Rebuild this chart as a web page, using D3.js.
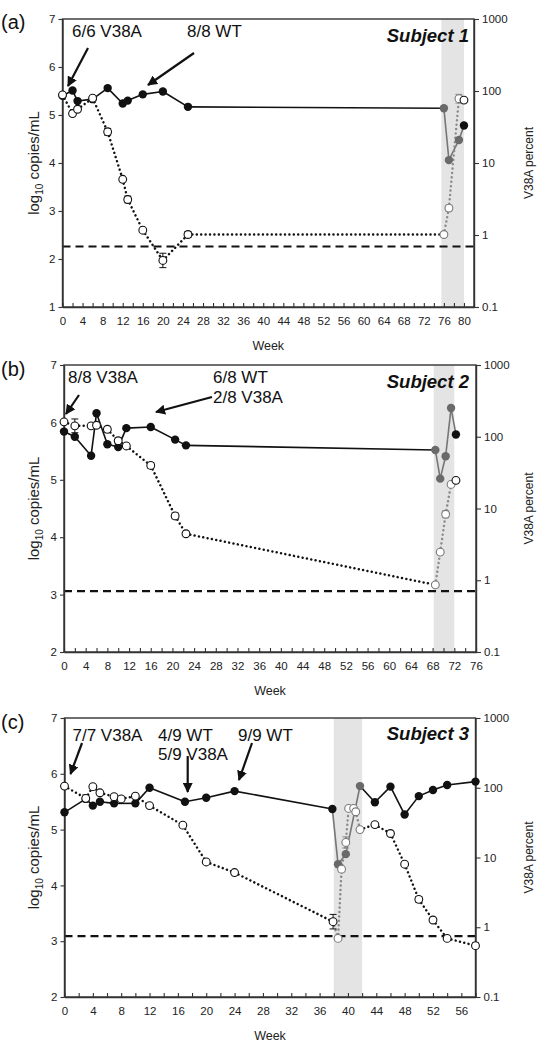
<!DOCTYPE html>
<html><head><meta charset="utf-8">
<script src="https://cdn.jsdelivr.net/npm/d3@7"></script>
<style>
body{margin:0;background:#fff}
svg{display:block}
text{font-family:"Liberation Sans",Arial,Helvetica,sans-serif;}
</style>
</head><body>
<svg id="chart" width="546" height="1050"></svg>
<script>
// ---------------- DATA ----------------
// Subject 1
const s1FilledWeeks = [0, 2, 3, 6, 9, 12, 13, 16, 20, 25, 76, 77, 79, 80];
const s1Filled      = [5.40, 5.51, 5.29, 5.33, 5.56, 5.24, 5.30, 5.43, 5.49, 5.17, 5.14, 4.06, 4.48, 4.78];
const s1OpenWeeks   = [0, 2, 3, 6, 9, 12, 13, 16, 20, 25, 76, 77, 79, 80];
const s1Open        = [5.42, 5.03, 5.12, 5.35, 4.65, 3.66, 3.24, 2.60, 1.97, 2.51, 2.51, 3.06, 5.34, 5.31];
const s1OpenErr     = [0, 0, 0, 0, 0.07, 0, 0.07, 0, 0.15, 0.06, 0.03, 0.06, 0.09, 0];
const s1Limit = 2.26;
const s1Band = [75.5, 80];
// Subject 2
const s2FilledWeeks = [0, 2, 5, 6, 8, 10, 11.5, 16, 20.5, 22.5, 68.5, 69.4, 70.4, 71.4, 72.3];
const s2Filled      = [5.84, 5.75, 5.42, 6.16, 5.62, 5.57, 5.90, 5.92, 5.70, 5.60, 5.52, 5.02, 5.41, 6.25, 5.79];
const s2OpenWeeks   = [0, 2, 5, 6, 8, 10, 11.5, 16, 20.5, 22.5, 68.5, 69.4, 70.4, 71.4, 72.3];
const s2Open        = [6.01, 5.94, 5.94, 5.95, 5.88, 5.68, 5.59, 5.25, 4.37, 4.06, 3.17, 3.74, 4.40, 4.92, 4.99];
const s2OpenErr     = [0, 0.12, 0, 0, 0.05, 0.05, 0, 0.05, 0.05, 0, 0.03, 0, 0.06, 0, 0];
const s2Limit = 3.06;
const s2Band = [68.2, 72];
// Subject 3
const s3FilledWeeks = [0, 3, 4, 5, 7, 10, 12, 17, 20, 24, 37.8, 38.6, 39.7, 41.7, 43.8, 46, 48, 50, 52, 54, 58];
const s3Filled      = [5.31, 5.55, 5.43, 5.50, 5.47, 5.47, 5.75, 5.50, 5.57, 5.69, 5.37, 4.38, 4.56, 5.78, 5.49, 5.77, 5.27, 5.60, 5.71, 5.80, 5.86];
const s3OpenWeeks   = [0, 3, 4, 5, 7, 8, 10, 12, 16.7, 20, 24, 37.9, 38.6, 39.1, 39.7, 40.1, 40.8, 41.1, 41.7, 43.8, 46, 48, 50, 52, 54, 58];
const s3Open        = [5.78, 5.56, 5.77, 5.66, 5.59, 5.55, 5.60, 5.43, 5.08, 4.42, 4.23, 3.35, 3.05, 4.29, 4.77, 5.38, 5.38, 5.32, 5.00, 5.09, 4.93, 4.38, 3.75, 3.38, 3.05, 2.92];
const s3OpenErr     = [0, 0.06, 0, 0, 0, 0, 0.04, 0, 0, 0, 0, 0.13, 0, 0.05, 0.1, 0, 0, 0, 0, 0, 0, 0, 0.05, 0, 0, 0.05];
const s3Limit = 3.09;
const s3Band = [38, 42];

const rightTicks = [0.1, 1, 10, 100, 1000];

// annotation texts
const s1Notes = ["6/6 V38A", "8/8 WT"];
const s2Notes = ["8/8 V38A", "6/8 WT", "2/8 V38A"];
const s3Notes = ["7/7 V38A", "4/9 WT", "5/9 V38A", "9/9 WT"];

// ---------------- LAYOUT ----------------
const panels = [
  {tag:"(a)", subject:"Subject 1", fw:s1FilledWeeks, fv:s1Filled, ow:s1OpenWeeks, ov:s1Open, oe:s1OpenErr,
   limit:s1Limit, band:s1Band, xMax:82, xLabelMax:80, yMin:1,
   box:{l:62.5, r:474, t:19, b:307}, tagY:29, subjY:42,
   notes:s1Notes, notePos:[[72,36.5],[187,36.5]],
   arrows:[[88,48,68,86],[194,53,148,85]]},
  {tag:"(b)", subject:"Subject 2", fw:s2FilledWeeks, fv:s2Filled, ow:s2OpenWeeks, ov:s2Open, oe:s2OpenErr,
   limit:s2Limit, band:s2Band, xMax:76, xLabelMax:76, yMin:2,
   box:{l:64, r:476, t:365, b:652}, tagY:376, subjY:388,
   notes:s2Notes, notePos:[[68,383],[213,383],[213,403]],
   arrows:[[79,395,66,414],[212,397,156,412]]},
  {tag:"(c)", subject:"Subject 3", fw:s3FilledWeeks, fv:s3Filled, ow:s3OpenWeeks, ov:s3Open, oe:s3OpenErr,
   limit:s3Limit, band:s3Band, xMax:58, xLabelMax:56, yMin:2,
   box:{l:64.5, r:475.5, t:718, b:997}, tagY:729, subjY:740,
   notes:s3Notes, notePos:[[72.5,741],[158,741],[158,760],[238,741]],
   arrows:[[82,743,70.5,774],[187.7,756,187.7,792],[252,743,239,780]]}
];

const BLACK = "#111", GREY = "#767676", GREYPT = "#6a6a6a";

const svg = d3.select("#chart");
const defs = svg.append("defs");
defs.append("marker").attr("id","arr").attr("viewBox","0 0 10 10")
  .attr("refX",9).attr("refY",5).attr("markerWidth",4.6).attr("markerHeight",4.6)
  .attr("markerUnits","strokeWidth").attr("orient","auto")
  .append("path").attr("d","M0,0 L10,5 L0,10 z").attr("fill",BLACK);

panels.forEach(p => {
  const B = p.box;
  const g = svg.append("g");
  const x = d3.scaleLinear().domain([0, p.xMax]).range([B.l, B.r]);
  const y = d3.scaleLinear().domain([p.yMin, 7]).range([B.b, B.t]);
  const yR = d3.scaleLog().domain([0.1, 1000]).range([B.b, B.t]);
  const inBand = w => w > p.band[0] && w < p.band[1];

  // band
  g.append("rect").attr("x", x(p.band[0])).attr("y", B.t)
    .attr("width", x(p.band[1]) - x(p.band[0])).attr("height", B.b - B.t)
    .attr("fill", "#e4e4e4");

  // limit line
  g.append("line").attr("x1", B.l).attr("x2", B.r).attr("y1", y(p.limit)).attr("y2", y(p.limit))
    .attr("stroke", BLACK).attr("stroke-width", 2.2).attr("stroke-dasharray", "8,5");

  // frame
  g.append("rect").attr("x", B.l).attr("y", B.t).attr("width", B.r - B.l).attr("height", B.b - B.t)
    .attr("fill", "none").attr("stroke", "#333").attr("stroke-width", 1.4);

  // axes
  const xt = d3.range(0, p.xMax + 0.001, 2);
  const xa = d3.axisBottom(x).tickValues(xt).tickSizeInner(-4).tickSizeOuter(0).tickPadding(10)
    .tickFormat(d => (d % 4 === 0 && d <= p.xLabelMax) ? d : "");
  const gx = g.append("g").attr("transform", `translate(0,${B.b})`).call(xa);
  const ya = d3.axisLeft(y).tickValues(d3.range(p.yMin, 7.001, 1)).tickSize(4).tickSizeOuter(0).tickPadding(3).tickFormat(d3.format("d"));
  const gy = g.append("g").attr("transform", `translate(${B.l},0)`).call(ya);
  const yra = d3.axisRight(yR).tickValues(rightTicks).tickSize(5).tickSizeOuter(0).tickPadding(3).tickFormat(d => String(d));
  const gyr = g.append("g").attr("transform", `translate(${B.r},0)`).call(yra);
  [gx, gy, gyr].forEach(a => {
    a.select(".domain").attr("stroke", "#333").attr("stroke-width", 1.4);
    a.selectAll(".tick line").attr("stroke", "#333").attr("stroke-width", 1.1);
    a.selectAll(".tick text").attr("font-size", 11.5).attr("fill", "#222")
      .attr("font-family", '"Liberation Sans",Arial,sans-serif');
  });

  // axis titles
  g.append("text").attr("x", (B.l + B.r) / 2).attr("y", B.b + 43).attr("text-anchor", "middle")
    .attr("font-size", 12.5).attr("fill", "#222").text("Week");
  const lt = g.append("text").attr("transform", `translate(39,${(B.t + B.b) / 2}) rotate(-90)`)
    .attr("text-anchor", "middle").attr("font-size", 15).attr("fill", "#222");
  lt.append("tspan").text("log");
  lt.append("tspan").attr("font-size", 10).attr("dy", 4).text("10");
  lt.append("tspan").attr("dy", -4).text(" copies/mL");
  g.append("text").attr("transform", `translate(533,${(B.t + B.b) / 2}) rotate(-90)`)
    .attr("text-anchor", "middle").attr("font-size", 12).attr("fill", "#222").text("V38A percent");

  // series
  const filled = p.fw.map((w, i) => ({w, v: p.fv[i]}));
  const open = p.ow.map((w, i) => ({w, v: p.ov[i], e: p.oe[i]}));
  const line = d3.line().x(d => x(d.w)).y(d => y(d.v));

  // solid line segments
  d3.pairs(filled).forEach(([a, b]) => {
    const grey = inBand((a.w + b.w) / 2);
    g.append("path").attr("d", line([a, b])).attr("fill", "none")
      .attr("stroke", grey ? GREY : BLACK).attr("stroke-width", 1.6);
  });
  // dotted segments
  d3.pairs(open).forEach(([a, b]) => {
    const grey = inBand((a.w + b.w) / 2);
    g.append("path").attr("d", line([a, b])).attr("fill", "none")
      .attr("stroke", grey ? "#8a8a8a" : BLACK).attr("stroke-width", 2.5)
      .attr("stroke-linecap", "round").attr("stroke-dasharray", "0.01,4.4");
  });
  // error bars
  open.filter(d => d.e > 0).forEach(d => {
    const c = inBand(d.w) ? "#8a8a8a" : BLACK;
    const x0 = x(d.w), y1 = y(d.v + d.e), y2 = y(d.v - d.e);
    g.append("line").attr("x1", x0).attr("x2", x0).attr("y1", y1).attr("y2", y2).attr("stroke", c).attr("stroke-width", 1);
    [y1, y2].forEach(yy => g.append("line").attr("x1", x0 - 3.5).attr("x2", x0 + 3.5).attr("y1", yy).attr("y2", yy)
      .attr("stroke", c).attr("stroke-width", 1));
  });
  // filled points
  g.selectAll(null).data(filled).enter().append("circle")
    .attr("cx", d => x(d.w)).attr("cy", d => y(d.v)).attr("r", 4.2)
    .attr("fill", d => inBand(d.w) ? GREYPT : BLACK);
  // open points
  g.selectAll(null).data(open).enter().append("circle")
    .attr("cx", d => x(d.w)).attr("cy", d => y(d.v)).attr("r", 3.9)
    .attr("fill", "#fff").attr("stroke", d => inBand(d.w) ? "#7a7a7a" : BLACK).attr("stroke-width", 1.1);

  // panel tag and subject
  g.append("text").attr("x", 1).attr("y", p.tagY).attr("font-size", 20).attr("fill", BLACK).text(p.tag);
  g.append("text").attr("x", 469).attr("y", p.subjY).attr("text-anchor", "end")
    .attr("font-size", 18.5).attr("font-weight", "bold").attr("font-style", "italic").attr("fill", BLACK).text(p.subject);

  // annotations
  p.notes.forEach((t, i) => {
    g.append("text").attr("x", p.notePos[i][0]).attr("y", p.notePos[i][1])
      .attr("font-size", 17).attr("fill", BLACK).text(t);
  });
  p.arrows.forEach(a => {
    g.append("line").attr("x1", a[0]).attr("y1", a[1]).attr("x2", a[2]).attr("y2", a[3])
      .attr("stroke", BLACK).attr("stroke-width", 2.2).attr("marker-end", "url(#arr)");
  });
});
</script>
</body></html>
